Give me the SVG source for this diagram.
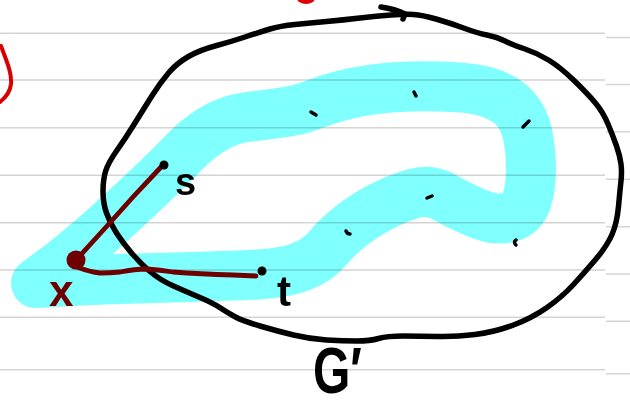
<svg xmlns="http://www.w3.org/2000/svg" width="630" height="407" viewBox="0 0 630 407">
<style>
.rule{stroke:#d4d4d4;stroke-width:1.6;fill:none}
.band{fill:none;stroke:#80ffff;stroke-width:50;stroke-linejoin:round;stroke-linecap:round;mix-blend-mode:multiply}
.ink{fill:none;stroke:#000;stroke-width:5.5;stroke-linecap:round;stroke-linejoin:round}
.edge{fill:none;stroke:#6e0000;stroke-width:4.8;stroke-linecap:round;stroke-linejoin:round}
.red{fill:none;stroke:#d80000;stroke-width:4;stroke-linecap:round}
.lbl{font-family:"Liberation Sans","DejaVu Sans",sans-serif;font-weight:bold;fill:#000}
.tick{fill:none;stroke:#000;stroke-width:3.5;stroke-linecap:round}
</style>
<rect width="630" height="407" fill="#fff"/>
<g id="rules">
<path class="rule" d="M0,33.3H605M0,80H605M0,127.7H605M0,175.3H605M0,222.7H605M0,270H605M0,317.3H605M0,369.7H605"/>
<path class="rule" d="M606,37.5H630M606,84.5H630M606,131.7H630M606,179.3H630M606,226.7H630M606,274H630M606,321.3H630M606,373.7H630"/>
</g>
<g id="band">
<path class="band" d="M36,283 L64,281.5 Q90,280 120,279 Q150,278 190,277 Q230,276 257.5,274.5 Q285,273 301.5,266.5 Q318,260 328,248 Q338,236 351.5,225.5 Q365,215 381.5,206.5 Q398,198 414,193.5 Q430,189 444,197 Q458,205 476.5,213 Q495,221 508.5,217.5 Q522,214 526.5,201 Q531,188 531,169 Q531,150 527.5,134 Q524,118 514.5,108 Q505,98 490,93 Q475,88 452.5,87 Q430,86 410,86.5 Q390,87 372.5,89.5 Q355,92 340,96 Q325,100 312.5,105 Q300,110 282.5,112.5 Q265,115 247.5,117 Q230,119 214,128.5 Q198,138 184.5,152 Q171,166 150.5,185.5 Q130,205 109,224 Q88,243 63,263 L36,283 Z"/>
</g>
<g id="band-marks">
<path class="tick" d="M311,112 L316,115"/>
<path class="tick" d="M414,92 L416,96"/>
<path class="tick" d="M523,127 L529,121"/>
<path class="tick" d="M346,231 Q347,234 350,234"/>
<path class="tick" d="M427,198 L432,196"/>
<path class="tick" d="M516,240 Q513,242 516,245"/>
</g>
<g id="G-prime-region">
<path class="ink" d="M391,15 Q405,14 413.5,14.5 Q422,15 436,19 Q450,23 463.5,28 Q477,33 487,35 Q497,37 505,41 Q513,45 525,49 Q537,53 548.5,60 Q560,67 573.5,80 Q587,93 595,102.5 Q603,112 608,124 Q613,136 616.5,146 Q620,156 621,164 Q622,172 621,181 Q620,190 618.5,206.5 Q617,223 612,234.5 Q607,246 596,259 Q585,272 573.5,284.5 Q562,297 547,307.5 Q532,318 513.5,325 Q495,332 475,334.5 Q455,337 437.5,336.5 Q420,336 403.5,336 Q387,336 378.5,338.5 Q370,341 356.5,341 Q343,341 326.5,340 Q310,339 293.5,335 Q277,331 260,326 Q243,321 235.5,317 Q228,313 220.5,308 Q213,303 200,297.5 Q187,292 173.5,286 Q160,280 150,271.5 Q140,263 131.5,253 Q123,243 116.5,233 Q110,223 106.5,213 Q103,203 103,191.5 Q103,180 105.5,171.5 Q108,163 116.5,151 Q125,139 134,124.5 Q143,110 151.5,96.5 Q160,83 168.5,73 Q177,63 188.5,56.5 Q200,50 215,46 Q230,42 245,37 Q260,32 270,29 Q280,26 295,24.5 Q310,23 326.5,21.5 Q343,20 360,18 Q377,16 391,15 Z"/>
<path class="ink" d="M381,7 Q395,9 405,14 L403,19"/>
<text class="lbl" transform="translate(313,393) scale(0.75,1)" font-size="64">G′</text>
</g>
<g id="connectors">
<path class="edge" d="M77,259 L107,226 L133,197 L162,166"/>
<path class="edge" d="M77,267 Q90,272 100,273 Q110,273 120,272 Q135,269 147,269 Q160,270 173,272 Q200,274 233,275 L256,276"/>
</g>
<g id="node-x">
<circle cx="76" cy="260" r="9.5" fill="#6e0000"/>
<text class="lbl" x="49" y="306" font-size="44" style="fill:#6e0000">x</text>
</g>
<g id="node-s">
<circle cx="164" cy="165" r="4.5" fill="#000"/>
<text class="lbl" x="175" y="195" font-size="38">s</text>
</g>
<g id="node-t">
<circle cx="262" cy="271" r="4.5" fill="#000"/>
<text class="lbl" x="277" y="306" font-size="42">t</text>
</g>
<g id="red-marks">
<path class="red" d="M1,46 C6,60 12,72 11,84 C10,93 5,98 0,102"/>
<ellipse cx="306" cy="-2" rx="9" ry="6" fill="#e00000"/>
</g>
</svg>
